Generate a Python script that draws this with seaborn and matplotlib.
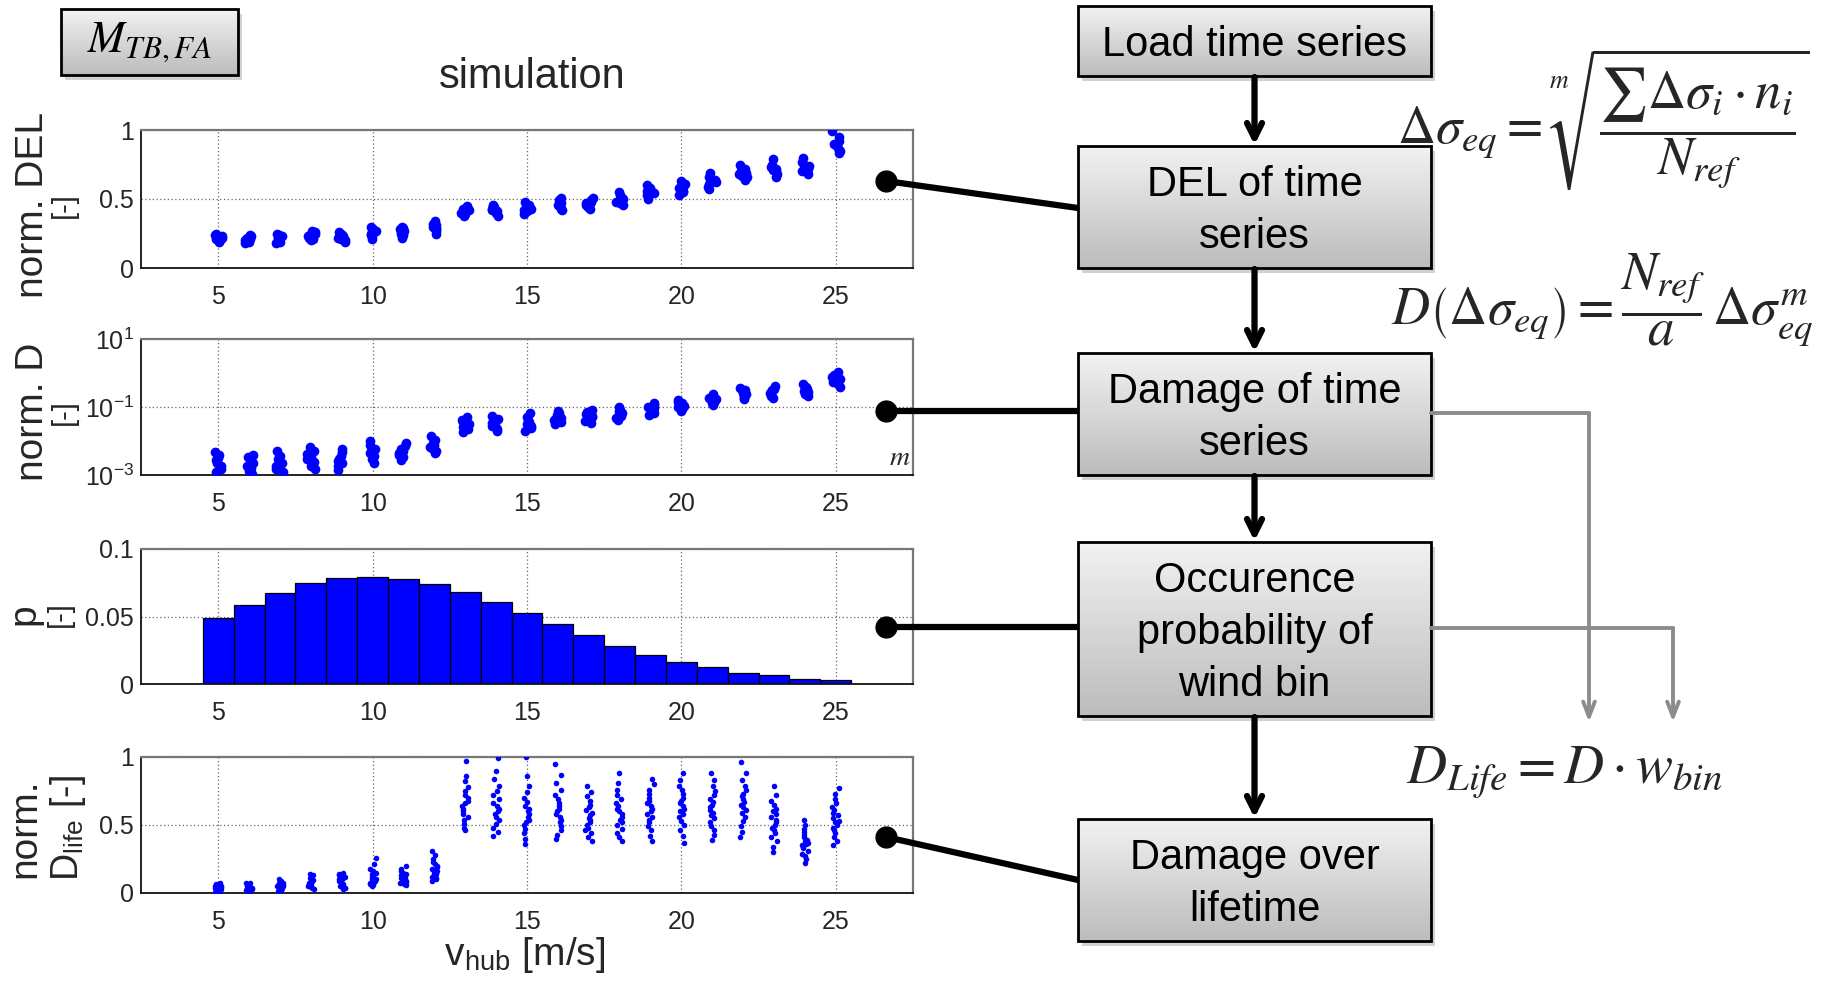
import numpy as np
import pandas as pd
import matplotlib
matplotlib.use("Agg")
import matplotlib.pyplot as plt
import seaborn as sns
from matplotlib import font_manager as fm
from matplotlib.patches import Rectangle
from matplotlib.colors import LinearSegmentedColormap
from matplotlib.ticker import NullLocator

# ---------------- data ----------------
wind_bins = [5, 6, 7, 8, 9, 10, 11, 12, 13, 14, 15, 16, 17, 18, 19, 20, 21, 22, 23, 24, 25]

del_values = [
    [0.19, 0.20, 0.21, 0.22, 0.22, 0.23, 0.24, 0.25],
    [0.18, 0.19, 0.20, 0.21, 0.21, 0.22, 0.23, 0.24],
    [0.18, 0.19, 0.20, 0.21, 0.22, 0.23, 0.24, 0.25],
    [0.20, 0.21, 0.22, 0.23, 0.24, 0.25, 0.26, 0.27],
    [0.19, 0.20, 0.21, 0.22, 0.23, 0.24, 0.25, 0.26],
    [0.21, 0.23, 0.24, 0.25, 0.26, 0.27, 0.28, 0.30],
    [0.22, 0.24, 0.25, 0.26, 0.27, 0.28, 0.29, 0.30],
    [0.25, 0.27, 0.28, 0.29, 0.30, 0.31, 0.32, 0.34],
    [0.38, 0.39, 0.40, 0.41, 0.42, 0.43, 0.44, 0.45],
    [0.38, 0.40, 0.41, 0.42, 0.43, 0.44, 0.45, 0.46],
    [0.39, 0.41, 0.42, 0.43, 0.44, 0.45, 0.46, 0.48],
    [0.42, 0.43, 0.45, 0.46, 0.47, 0.48, 0.49, 0.51],
    [0.43, 0.44, 0.45, 0.46, 0.47, 0.48, 0.49, 0.51],
    [0.46, 0.47, 0.48, 0.49, 0.50, 0.51, 0.53, 0.55],
    [0.50, 0.52, 0.53, 0.54, 0.55, 0.56, 0.58, 0.60],
    [0.53, 0.55, 0.56, 0.57, 0.58, 0.59, 0.61, 0.63],
    [0.57, 0.59, 0.61, 0.62, 0.63, 0.64, 0.66, 0.69],
    [0.64, 0.66, 0.67, 0.68, 0.69, 0.70, 0.72, 0.75],
    [0.66, 0.68, 0.70, 0.71, 0.72, 0.73, 0.75, 0.79],
    [0.68, 0.70, 0.72, 0.73, 0.74, 0.75, 0.77, 0.80],
    [0.83, 0.85, 0.87, 0.89, 0.90, 0.92, 0.95, 0.99],
]

damage_values = [
    [1.2e-3, 1.5e-3, 1.9e-3, 2.3e-3, 2.7e-3, 3.2e-3, 3.9e-3, 4.7e-3],
    [1.05e-3, 1.3e-3, 1.6e-3, 1.9e-3, 2.3e-3, 2.8e-3, 3.4e-3, 4.0e-3],
    [0.9e-3, 1.2e-3, 1.5e-3, 1.9e-3, 2.3e-3, 2.9e-3, 3.6e-3, 5.0e-3],
    [1.5e-3, 1.9e-3, 2.4e-3, 2.9e-3, 3.4e-3, 4.1e-3, 5.0e-3, 6.5e-3],
    [1.4e-3, 1.8e-3, 2.2e-3, 2.6e-3, 3.0e-3, 3.7e-3, 4.6e-3, 6.0e-3],
    [2.3e-3, 3.0e-3, 3.6e-3, 4.3e-3, 5.0e-3, 6.0e-3, 7.5e-3, 1.0e-2],
    [2.7e-3, 3.3e-3, 3.8e-3, 4.3e-3, 5.0e-3, 5.8e-3, 7.0e-3, 8.8e-3],
    [4.3e-3, 5.2e-3, 6.0e-3, 6.8e-3, 7.7e-3, 9.0e-3, 1.1e-2, 1.45e-2],
    [1.9e-2, 2.2e-2, 2.6e-2, 2.9e-2, 3.2e-2, 3.6e-2, 4.2e-2, 5.2e-2],
    [2.0e-2, 2.3e-2, 2.7e-2, 3.0e-2, 3.4e-2, 3.8e-2, 4.5e-2, 5.5e-2],
    [2.0e-2, 2.4e-2, 2.8e-2, 3.2e-2, 3.6e-2, 4.1e-2, 5.0e-2, 6.5e-2],
    [3.2e-2, 3.7e-2, 4.2e-2, 4.7e-2, 5.2e-2, 5.8e-2, 6.6e-2, 7.8e-2],
    [3.5e-2, 4.0e-2, 4.5e-2, 5.0e-2, 5.5e-2, 6.1e-2, 6.9e-2, 8.0e-2],
    [4.2e-2, 4.8e-2, 5.5e-2, 6.1e-2, 6.7e-2, 7.4e-2, 8.3e-2, 9.8e-2],
    [5.8e-2, 6.7e-2, 7.5e-2, 8.3e-2, 9.1e-2, 1.0e-1, 1.12e-1, 1.3e-1],
    [7.5e-2, 8.6e-2, 9.7e-2, 1.07e-1, 1.17e-1, 1.28e-1, 1.43e-1, 1.65e-1],
    [0.115, 0.13, 0.145, 0.16, 0.175, 0.19, 0.21, 0.24],
    [0.17, 0.19, 0.215, 0.235, 0.255, 0.28, 0.31, 0.36],
    [0.19, 0.215, 0.24, 0.265, 0.29, 0.315, 0.35, 0.41],
    [0.21, 0.24, 0.27, 0.30, 0.33, 0.36, 0.40, 0.47],
    [0.40, 0.47, 0.54, 0.61, 0.68, 0.77, 0.90, 1.1],
]

probability = [0.0488, 0.0588, 0.0676, 0.0745, 0.0784, 0.0792, 0.0777, 0.0738, 0.0684,
               0.0608, 0.0529, 0.0441, 0.0363, 0.0284, 0.0216, 0.0162, 0.0125, 0.0083,
               0.0064, 0.0037, 0.0029]

life_values = [
    [0.01, 0.015, 0.02, 0.025, 0.03, 0.03, 0.035, 0.035, 0.04, 0.04, 0.045, 0.045, 0.05, 0.05, 0.055, 0.06, 0.065, 0.075],
    [0.01, 0.015, 0.02, 0.025, 0.025, 0.03, 0.035, 0.035, 0.04, 0.04, 0.045, 0.045, 0.05, 0.055, 0.055, 0.06, 0.07, 0.075],
    [0.015, 0.02, 0.025, 0.03, 0.035, 0.04, 0.04, 0.045, 0.05, 0.05, 0.055, 0.06, 0.065, 0.07, 0.075, 0.08, 0.09, 0.10],
    [0.03, 0.04, 0.045, 0.05, 0.055, 0.06, 0.065, 0.07, 0.075, 0.08, 0.085, 0.09, 0.095, 0.10, 0.11, 0.12, 0.13, 0.14],
    [0.03, 0.035, 0.04, 0.05, 0.055, 0.06, 0.065, 0.07, 0.075, 0.08, 0.085, 0.09, 0.10, 0.11, 0.12, 0.13, 0.14, 0.15],
    [0.05, 0.06, 0.065, 0.07, 0.08, 0.085, 0.09, 0.10, 0.105, 0.11, 0.12, 0.13, 0.14, 0.15, 0.16, 0.18, 0.21, 0.26],
    [0.06, 0.065, 0.07, 0.08, 0.085, 0.09, 0.095, 0.10, 0.105, 0.11, 0.12, 0.125, 0.13, 0.14, 0.15, 0.16, 0.18, 0.20],
    [0.09, 0.10, 0.11, 0.12, 0.13, 0.14, 0.15, 0.16, 0.165, 0.17, 0.18, 0.19, 0.20, 0.21, 0.23, 0.25, 0.28, 0.31],
    [0.46, 0.48, 0.51, 0.54, 0.56, 0.58, 0.60, 0.62, 0.64, 0.66, 0.68, 0.70, 0.72, 0.75, 0.78, 0.82, 0.86, 0.97],
    [0.42, 0.45, 0.48, 0.51, 0.54, 0.56, 0.58, 0.60, 0.62, 0.64, 0.66, 0.69, 0.72, 0.75, 0.79, 0.84, 0.90, 0.99],
    [0.36, 0.40, 0.44, 0.47, 0.50, 0.52, 0.54, 0.56, 0.58, 0.60, 0.62, 0.64, 0.67, 0.70, 0.74, 0.79, 0.86, 1.00],
    [0.40, 0.43, 0.46, 0.49, 0.52, 0.54, 0.56, 0.58, 0.60, 0.62, 0.64, 0.66, 0.69, 0.72, 0.76, 0.81, 0.87, 0.95],
    [0.38, 0.41, 0.44, 0.46, 0.48, 0.50, 0.52, 0.54, 0.55, 0.57, 0.59, 0.61, 0.63, 0.65, 0.68, 0.71, 0.74, 0.79],
    [0.38, 0.41, 0.44, 0.47, 0.50, 0.52, 0.54, 0.56, 0.58, 0.60, 0.62, 0.64, 0.66, 0.69, 0.72, 0.76, 0.81, 0.88],
    [0.38, 0.42, 0.46, 0.49, 0.52, 0.54, 0.56, 0.58, 0.60, 0.62, 0.64, 0.66, 0.68, 0.70, 0.73, 0.76, 0.80, 0.84],
    [0.37, 0.42, 0.46, 0.50, 0.53, 0.56, 0.58, 0.60, 0.62, 0.64, 0.66, 0.68, 0.70, 0.73, 0.76, 0.79, 0.83, 0.88],
    [0.39, 0.43, 0.46, 0.49, 0.52, 0.55, 0.57, 0.59, 0.61, 0.63, 0.65, 0.67, 0.69, 0.72, 0.75, 0.79, 0.83, 0.88],
    [0.41, 0.45, 0.49, 0.53, 0.56, 0.59, 0.61, 0.63, 0.65, 0.67, 0.69, 0.71, 0.73, 0.76, 0.79, 0.83, 0.88, 0.96],
    [0.30, 0.34, 0.38, 0.41, 0.44, 0.46, 0.48, 0.50, 0.52, 0.54, 0.56, 0.58, 0.60, 0.62, 0.65, 0.68, 0.72, 0.79],
    [0.22, 0.25, 0.27, 0.29, 0.31, 0.33, 0.34, 0.35, 0.36, 0.37, 0.38, 0.39, 0.41, 0.43, 0.45, 0.47, 0.50, 0.54],
    [0.35, 0.38, 0.41, 0.44, 0.46, 0.48, 0.50, 0.52, 0.53, 0.55, 0.57, 0.59, 0.61, 0.63, 0.66, 0.69, 0.73, 0.77],
]

x_ticks = [5, 10, 15, 20, 25]
del_ticks = [0, 0.5, 1]
del_tick_labels = ["0", "0.5", "1"]
dmg_ticks = [1e-3, 1e-1, 1e1]
dmg_tick_labels = [r"$\mathregular{10^{-3}}$", r"$\mathregular{10^{-1}}$", r"$\mathregular{10^{1}}$"]
p_ticks = [0, 0.05, 0.1]
p_tick_labels = ["0", "0.05", "0.1"]
life_ticks = [0, 0.5, 1]
life_tick_labels = ["0", "0.5", "1"]

flow_boxes = ["Load time series", "DEL of time\nseries", "Damage of time\nseries",
              "Occurence\nprobability of\nwind bin", "Damage over\nlifetime"]

# ---------------- style ----------------
sns.set_theme(style="white")


def has_font(name):
    try:
        fm.findfont(name, fallback_to_default=False)
        return True
    except Exception:
        return False


SANS = "Liberation Sans" if has_font("Liberation Sans") else "DejaVu Sans"
NARROW = "Liberation Sans Narrow" if has_font("Liberation Sans Narrow") else SANS
plt.rcParams["font.family"] = [SANS, "DejaVu Sans"]
plt.rcParams["mathtext.fontset"] = "stix"

W, H = 1841, 999
fig = plt.figure(figsize=(W / 100, H / 100), dpi=100)
fig.patch.set_facecolor("white")

BLUE = "#0000ff"


def long_df(values):
    rows = []
    for v, vals in zip(wind_bins, values):
        for y in vals:
            rows.append((v, y))
    return pd.DataFrame(rows, columns=["v", "val"])


def make_ax(top, bottom):
    left, right = 141, 913
    return fig.add_axes([left / W, 1 - bottom / H, (right - left) / W, (bottom - top) / H])


def style_ax(ax, yticks, ylabels):
    ax.set_xlim(2.5, 27.5)
    ax.set_xticks(x_ticks)
    ax.set_xticklabels([str(t) for t in x_ticks], fontsize=18, family=NARROW)
    ax.set_yticks(yticks)
    ax.set_yticklabels(ylabels, fontsize=18, family=NARROW)
    ax.yaxis.set_minor_locator(NullLocator())
    ax.xaxis.set_minor_locator(NullLocator())
    ax.tick_params(axis="x", length=0, pad=12)
    ax.tick_params(axis="y", length=0, pad=5)
    ax.grid(True, which="major", linestyle=(0, (1, 2)), color="#666666", linewidth=0.9)
    ax.set_axisbelow(True)
    ax.set_xlabel("")
    ax.set_ylabel("")
    for s in ["left", "bottom"]:
        ax.spines[s].set_color("#111111")
        ax.spines[s].set_linewidth(1.3)
    for s in ["top", "right"]:
        ax.spines[s].set_color("#777777")
        ax.spines[s].set_linewidth(1.6)
    ax.set_facecolor("white")


np.random.seed(3)

# panel 1 : DEL
ax1 = make_ax(130, 268)
sns.stripplot(data=long_df(del_values), x="v", y="val", native_scale=True, jitter=0.14,
              color=BLUE, size=7, linewidth=0, ax=ax1)
ax1.set_ylim(0, 1)
style_ax(ax1, del_ticks, del_tick_labels)

# panel 2 : damage (log)
ax2 = make_ax(339, 475)
sns.stripplot(data=long_df(damage_values), x="v", y="val", native_scale=True, jitter=0.14,
              color=BLUE, size=7, linewidth=0, ax=ax2)
ax2.set_yscale("log")
ax2.set_ylim(1e-3, 1e1)
style_ax(ax2, dmg_ticks, dmg_tick_labels)

# panel 3 : probability
ax3 = make_ax(549, 684)
sns.barplot(x=wind_bins, y=probability, native_scale=True, width=1.0, color=BLUE,
            saturation=1, edgecolor="black", linewidth=0.9, ax=ax3)
ax3.set_ylim(0, 0.1)
style_ax(ax3, p_ticks, p_tick_labels)

# panel 4 : lifetime damage
ax4 = make_ax(757, 893)
sns.stripplot(data=long_df(life_values), x="v", y="val", native_scale=True, jitter=0.11,
              color=BLUE, size=4, linewidth=0, ax=ax4)
ax4.set_ylim(0, 1)
style_ax(ax4, life_ticks, life_tick_labels)

# ---------------- overlay ----------------
ov = fig.add_axes([0, 0, 1, 1])
ov.set_xlim(0, W)
ov.set_ylim(H, 0)
ov.set_axis_off()
ov.patch.set_visible(False)

grad = LinearSegmentedColormap.from_list("g", ["#f2f2f2", "#bcbcbc"])


def box(x0, y0, x1, y1, text, fs=30, ls=1.38, math_font=None, dy=4):
    ov.add_patch(Rectangle((x0 + 4, y0 + 5), x1 - x0, y1 - y0, facecolor="#9a9a9a",
                           edgecolor="none", alpha=0.45, zorder=2))
    ov.imshow(np.linspace(0, 1, 200).reshape(-1, 1), cmap=grad, aspect="auto",
              extent=(x0, x1, y1, y0), origin="upper", zorder=3)
    ov.add_patch(Rectangle((x0, y0), x1 - x0, y1 - y0, fill=False, edgecolor="black",
                           linewidth=2, zorder=4))
    kw = {}
    if math_font:
        kw["math_fontfamily"] = math_font
    ov.text((x0 + x1) / 2, (y0 + y1) / 2 + dy, text, ha="center", va="center", fontsize=fs,
            linespacing=ls, zorder=5, color="black", **kw)


BX0, BX1 = 1078, 1431
box_y = [(6, 76), (146, 268), (353, 475), (542, 716), (819, 941)]
for (y0, y1), t in zip(box_y, flow_boxes):
    box(BX0, y0, BX1, y1, t)

box(61, 9, 238, 75, r"$M_{TB,FA}$", fs=32, math_font="stix", dy=0)

ov.set_xlim(0, W)
ov.set_ylim(H, 0)

# vertical black arrows
xc = (BX0 + BX1) / 2
for (a0, a1), (b0, b1) in zip(box_y[:-1], box_y[1:]):
    ov.annotate("", xy=(xc, b0 - 1), xytext=(xc, a1 + 1),
                arrowprops=dict(arrowstyle="->,head_length=0.9,head_width=0.45",
                                color="black", lw=4.5, shrinkA=0, shrinkB=0), zorder=5)

# connectors from panels to boxes
conns = [((886, 181), (1078, 208)), ((886, 411), (1078, 411)),
         ((886, 627), (1078, 627)), ((886, 837), (1078, 880))]
for (xa, ya), (xb, yb) in conns:
    ov.plot([xa, xb], [ya, yb], color="black", lw=4.5, solid_capstyle="butt", zorder=6)
    ov.plot([xa], [ya], marker="o", ms=15, color="black", zorder=7)

# gray arrows
GRAY = "#8c8c8c"
for ys, xe in [(413, 1589), (628, 1673)]:
    ov.plot([BX1, xe], [ys, ys], color=GRAY, lw=2.8, zorder=5)
    ov.annotate("", xy=(xe, 722), xytext=(xe, ys),
                arrowprops=dict(arrowstyle="->,head_length=0.9,head_width=0.35",
                                color=GRAY, lw=2.8, shrinkA=0, shrinkB=0), zorder=5)

# equations
ov.text(1397, 120, r"$\Delta\sigma_{eq} = \sqrt[m]{\dfrac{\sum\Delta\sigma_i\cdot n_i}{N_{ref}}}$",
        ha="left", va="center", fontsize=38, math_fontfamily="stix", zorder=6)
ov.text(1391, 300, r"$D\left(\Delta\sigma_{eq}\right) = \dfrac{N_{ref}}{a}\,\Delta\sigma_{eq}^{m}$",
        ha="left", va="center", fontsize=38, math_fontfamily="stix", zorder=6)
ov.text(1406, 773, r"$D_{Life} = D\cdot w_{bin}$",
        ha="left", va="center", fontsize=40, math_fontfamily="stix", zorder=6)
ov.text(900, 458, r"$m$", ha="center", va="center", fontsize=20, math_fontfamily="stix", zorder=6)

# texts for the left panels
fig.text(532 / W, 1 - 77 / H, "simulation", ha="center", va="center", fontsize=30)

ylab = [
    (205, [(33, "norm. DEL", 28), (64, "[-]", 21)]),
    (412, [(33, "norm. D", 28), (64, "[-]", 21)]),
    (614, [(24, "p", 28), (60, "[-]", 21)]),
    (828, [(25, "norm.", 28), (68, r"D$_{\mathregular{life}}$ [-]", 27)]),
]
for yc, items in ylab:
    for xx, t, fs in items:
        fig.text(xx / W, 1 - yc / H, t, rotation=90, ha="center", va="center", fontsize=fs)

fig.text(525 / W, 1 - 955 / H, r"v$_{\mathregular{hub}}$ [m/s]", ha="center", va="center",
         fontsize=28, family=NARROW)

fig.savefig("out.png", dpi=100, facecolor="white")
